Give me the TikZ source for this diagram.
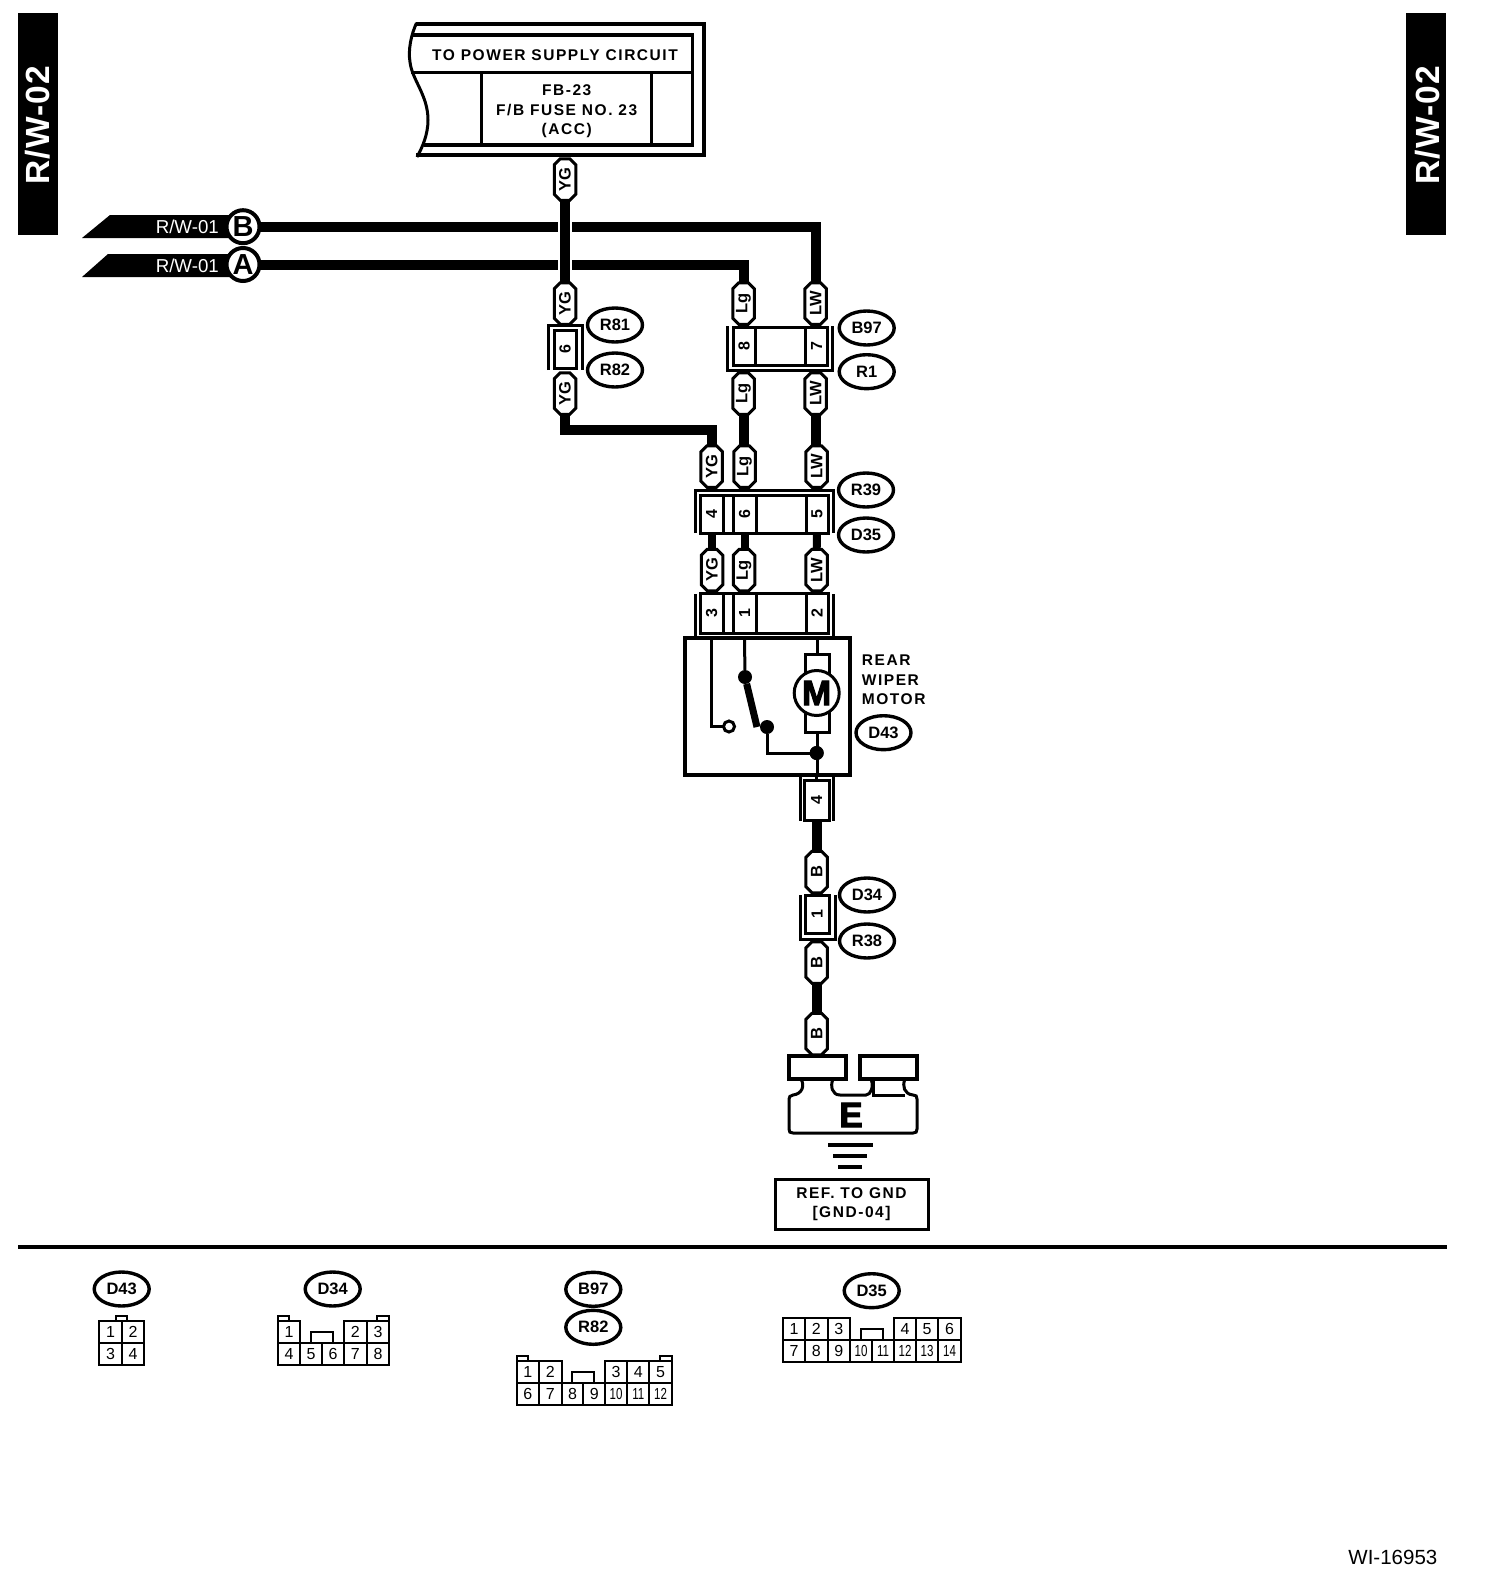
\documentclass[tikz,border=0pt]{standalone}
\usepackage{fontspec}
\usepackage{graphicx}
\setmainfont{Liberation Sans}
\newfontfamily\lsfont[LetterSpace=10.0]{Liberation Sans}
\newfontfamily\tabfont[LetterSpace=3.5]{Liberation Sans}
\newfontface\heavyfont{Liberation Sans Bold}[FakeBold=3]
\usetikzlibrary{shapes.geometric,shapes.misc}
\tikzset{
  capsule/.style={draw,fill=white,line width=3pt,outer sep=0pt,chamfered rectangle,chamfered rectangle xsep=3pt,chamfered rectangle ysep=3pt,
    minimum width=41.5pt,minimum height=21.5pt,inner sep=0pt,rotate=90,font=\fontsize{16.5}{17}\selectfont\bfseries},
  cell/.style={draw,fill=white,line width=3pt,outer sep=0pt,inner sep=0pt,rotate=90,font=\fontsize{16}{16}\selectfont\bfseries,minimum height=22pt,minimum width=38pt},
  blankcell/.style={draw,line width=3pt,outer sep=0pt,inner sep=0pt},
  tag/.style={draw,fill=white,ellipse,line width=3.4pt,inner sep=0pt,minimum width=55pt,minimum height=34pt,font=\fontsize{16.5}{17}\selectfont\bfseries},
  wire/.style={line width=10pt},
  thinw/.style={line width=3pt},
  bracket/.style={line width=3pt},
  tab/.style={fill=black,text=white,minimum width=40pt,minimum height=222pt,inner sep=0pt},
  pointerlabel/.style={text=white,inner sep=0pt,font=\fontsize{18.7}{19}\selectfont},
  letterc/.style={circle,draw,fill=white,line width=4pt,outer sep=0pt,minimum size=33pt,inner sep=0pt,font=\fontsize{29}{29}\selectfont\bfseries},
  dot/.style={circle,fill=black,inner sep=0pt,outer sep=0pt,minimum size=14pt},
  opendot/.style={circle,draw,fill=white,line width=3pt,outer sep=0pt,inner sep=0pt,minimum size=11pt},
  labeltext/.style={inner sep=0pt,font=\fontsize{15.5}{19.5}\selectfont\lsfont\bfseries,align=center},
  mini/.style={line width=2pt},
  num/.style={inner sep=0pt,font=\fontsize{16}{16}\selectfont},
  tabtext/.style={text=white,inner sep=0pt,rotate=90,font=\fontsize{33.5}{34}\selectfont\tabfont\bfseries},
}
\newcommand{\nn}[3]{\node[num] at (#1,#2) {#3};}
\newcommand{\nnn}[3]{\node[num] at (#1,#2) {\scalebox{.72}[1]{#3}};}
\begin{document}
\begin{tikzpicture}[x=1pt,y=-1pt]
\useasboundingbox (0,0) rectangle (1504,1592);

% side tabs
\node[tab] (tabL) at (37.7,124) {};
\node[tab] (tabR) at (1426,124) {};
\node[tabtext] (tabLt) at (37.7,125) {R/W-02};
\node[tabtext] (tabRt) at (1427.7,125) {R/W-02};

% power supply block
\draw[line width=4pt] (416,24.5) -- (704,24.5) -- (704,155) -- (416,155);
\draw[line width=3.5pt] (413,35) -- (692.7,35) -- (692.7,145) -- (424,145);
\draw[line width=3pt] (411,72.7) -- (692.7,72.7);
\draw[line width=3pt] (481,72.7) -- (481,145);
\draw[line width=3pt] (651.7,72.7) -- (651.7,145);
\draw[line width=3pt] (416.5,23) .. controls (411,35) and (408,50) .. (410,62) .. controls (412,80) and (428,95) .. (428,120) .. controls (428,135) and (422,148) .. (417,157);
\node[labeltext] (ps1) at (555,55) {TO POWER SUPPLY CIRCUIT};
\node[labeltext] (ps2) at (566.7,111.5) {FB-23\\F/B FUSE NO. 23\\(ACC)};

% pointers
\fill (82,238) -- (110,215) -- (233,215) -- (233,238) -- cycle;
\fill (82,277) -- (108,254) -- (233,254) -- (233,277) -- cycle;
\node[pointerlabel,anchor=east] (pb) at (219,227) {R/W-01};
\node[pointerlabel,anchor=east] (pa) at (219,266) {R/W-01};
\node[letterc] (cb) at (243,226.7) {B};
\node[letterc] (ca) at (243,264.5) {A};

% capsules
\node[capsule] (yg1) at (565,179.5) {YG};
\node[capsule] (yg2) at (565,303.5) {YG};
\node[capsule] (yg3) at (565,393.5) {YG};
\node[capsule] (lg1) at (743.5,303.5) {Lg};
\node[capsule] (lw1) at (815.7,303.5) {LW};
\node[capsule] (lg2) at (743.5,393.5) {Lg};
\node[capsule] (lw2) at (815.7,393.5) {LW};
\node[capsule] (yg4) at (711.7,466.5) {YG};
\node[capsule] (lg3) at (744.5,466.5) {Lg};
\node[capsule] (lw3) at (816.7,466.5) {LW};
\node[capsule] (yg5) at (712,570) {YG};
\node[capsule] (lg4) at (744,570) {Lg};
\node[capsule] (lw4) at (816.7,570) {LW};
\node[capsule] (b1) at (816.7,872) {B};
\node[capsule] (b2) at (816.7,962.5) {B};
\node[capsule] (b3) at (816.7,1034) {B};

% wires
\draw[wire] (cb.east) -| (lw1.east);
\draw[wire] (ca.east) -| (lg1.east);
\draw[white,line width=14pt] (yg1 |- cb) ++(0,-6) -- ++(0,12);
\draw[white,line width=14pt] (yg1 |- ca) ++(0,-6) -- ++(0,12);
\draw[wire] (yg1.west) -- (yg2.east);
\draw[wire] (lg2.west) -- (lg2.west |- lg3.east);
\draw[wire] (lw2.west) -- (lw2.west |- lw3.east);
\draw[wire] (yg3.west) -- ++(0,15.5) -| (yg4.east);
\draw[wire] (b2.west) -- (b3.east);

% connector 6
\node[cell,minimum width=38pt,minimum height=22pt] (p6) at (565,349) {6};
\draw[bracket] (548,370) -- (548,325) -- (582.7,325) -- (582.7,370);
% connector 8/7
\node[blankcell,minimum width=50pt,minimum height=38pt] (m1) at (780,346.5) {};
\node[cell] (p8) at (744,346.5) {8};
\node[cell] (p7) at (816.5,346.5) {7};
\draw[bracket] (727.7,326) -- (727.7,370) -- (832,370) -- (832,326);
% connector 4/6/5
\node[blankcell,minimum width=128pt,minimum height=38pt] (m2) at (764,514) {};
\node[blankcell,minimum width=50pt,minimum height=38pt] (m2b) at (781,514) {};
\node[cell,minimum width=38pt,minimum height=23pt] (p4) at (711.5,514) {4};
\node[cell,minimum width=38pt,minimum height=23pt] (p6b) at (744.5,514) {6};
\node[cell,minimum width=38pt,minimum height=22pt] (p5) at (817,514) {5};
\draw[bracket] (695,533) -- (695,490) -- (833,490) -- (833,533);
\draw[line width=8pt] (p4.west) -- (p4.west |- yg5.east);
\draw[line width=8pt] (p6b.west) -- (p6b.west |- lg4.east);
\draw[line width=8pt] (p5.west) -- (lw4.east);
% connector 3/1/2
\node[blankcell,minimum width=128pt,minimum height=40pt] (m3) at (764,613) {};
\node[blankcell,minimum width=50pt,minimum height=40pt] (m3b) at (781,613) {};
\node[cell,minimum width=40pt,minimum height=23pt] (p3) at (711.5,613) {3};
\node[cell,minimum width=40pt,minimum height=23pt] (p1) at (744.5,613) {1};
\node[cell,minimum width=40pt,minimum height=22pt] (p2) at (817,613) {2};
\draw[bracket] (695.7,594) -- (695.7,636);
\draw[bracket] (833,594) -- (833,636);

% motor box
\node[draw,line width=3.2pt,inner sep=0pt,outer sep=0pt,minimum width=165pt,minimum height=137pt] (mb) at (767.5,706.5) {};
\node[opendot] (c1) at (729,726.5) {};
\node[dot] (d1) at (745,677) {};
\node[dot] (d2) at (767,727) {};
\node[dot] (d3) at (816.7,753) {};
\coordinate (sw) at (757,727);
\draw[thinw] (p3 |- mb.north) |- (c1.west);
\draw[thinw] (p1 |- mb.north) -- (d1);
\draw[line width=7pt] (d1) -- (sw);
\draw[thinw] (d2) |- (d3);
\draw[thinw] (p2 |- mb.north) -- (p2 |- mb.south);
\node[draw,fill=white,line width=3pt,inner sep=0pt,minimum width=24pt,minimum height=78pt] (mr) at (817,693) {};
\node[circle,draw,fill=white,line width=3pt,inner sep=0pt,minimum size=45pt,font=\fontsize{35}{35}\selectfont\heavyfont] (mm) at (816.7,693) {M};
\node[dot] at (d3) {};
\node[labeltext,anchor=north west,align=left] (mt) at (861.7,655) {REAR\\WIPER\\MOTOR};

% connector 4 below motor
\node[cell,minimum width=40pt,minimum height=25pt] (p4b) at (816.7,800) {4};
\draw[bracket] (800,775) -- (800,821);
\draw[bracket] (833,775) -- (833,821);
\draw[thinw] (p4b |- mb.south) -- (p4b.east);
\draw[wire] (p4b.west) -- (b1.east);
% connector 1
\node[cell,minimum width=38pt,minimum height=24pt] (p1b) at (817,914) {1};
\draw[bracket] (800,895) -- (800,939) -- (835,939) -- (835,895);

% ground block
\node[draw,fill=white,line width=3.2pt,inner sep=0pt,minimum width=57pt,minimum height=23pt] (g1) at (817.5,1067.5) {};
\node[draw,fill=white,line width=3.2pt,inner sep=0pt,minimum width=57pt,minimum height=23pt] (g2) at (888.5,1067.5) {};
\draw[line width=3pt] (801,1079) .. controls (805,1086) and (802,1094) .. (793,1095) .. controls (790,1095.5) and (789,1097) .. (789,1099) -- (789,1129) .. controls (789,1132) and (790,1133) .. (793,1133) -- (913,1133) .. controls (916,1133) and (917,1132) .. (917,1129) -- (917,1099) .. controls (917,1096) and (916,1095) .. (913,1095) .. controls (904,1094) and (902,1086) .. (905,1079);
\draw[line width=3pt] (833,1079) .. controls (830,1086) and (832,1095) .. (840,1095) -- (866,1095) .. controls (871,1095) and (874,1086) .. (871,1079);
\draw[line width=3pt] (873,1079) -- (873,1095) -- (905,1095);
\node[inner sep=0pt,font=\fontsize{35}{35}\selectfont\heavyfont] (e) at (851,1115) {E};
\draw[line width=4pt] (828,1145) -- (873,1145);
\draw[line width=4pt] (833,1156) -- (867,1156);
\draw[line width=4pt] (838,1167) -- (862,1167);
\node[draw,line width=3pt,inner sep=0pt,minimum width=153pt,minimum height=50pt,labeltext] (ref) at (851.5,1204) {REF. TO GND\\{}[GND-04]};

% tags
\node[tag] (t1) at (615,325) {R81};
\node[tag] (t2) at (615,370) {R82};
\node[tag] (t3) at (866.7,328) {B97};
\node[tag] (t4) at (866.7,371.7) {R1};
\node[tag] (t5) at (866,490) {R39};
\node[tag] (t6) at (866,535) {D35};
\node[tag] (t7) at (883.5,732.7) {D43};
\node[tag] (t8) at (867,895) {D34};
\node[tag] (t9) at (867,941) {R38};

% separator
\draw[line width=4pt] (18,1247) -- (1447,1247);

% bottom connector views
\node[tag] (t10) at (121.7,1289) {D43};
\node[tag] (t11) at (332.7,1289) {D34};
\node[tag] (t12) at (593.3,1289.3) {B97};
\node[tag] (t13) at (593.3,1327.3) {R82};
\node[tag] (t14) at (871.7,1290.7) {D35};

% D43 view
\draw[mini] (99.3,1320.7) rectangle (144,1365);
\draw[mini] (99.3,1343) -- (144,1343);
\draw[mini] (121.7,1320.7) -- (121.7,1365);
\draw[mini] (116,1320.7) -- (116,1316) -- (127.3,1316) -- (127.3,1320.7);
\nn{110.5}{1332}{1}\nn{133}{1332}{2}\nn{110.5}{1354}{3}\nn{133}{1354}{4}

% D34 view
\draw[mini] (277.7,1343) -- (277.7,1320.7) -- (300.3,1320.7) -- (300.3,1343);
\draw[mini] (344,1343) -- (344,1320.7) -- (389,1320.7) -- (389,1343);
\draw[mini] (366.7,1320.7) -- (366.7,1343);
\draw[mini] (277.7,1343) rectangle (389,1365);
\foreach \vx in {300.3,322,344,366.7} \draw[mini] (\vx,1343) -- (\vx,1365);
\draw[mini] (310.7,1343) -- (310.7,1332) -- (333.3,1332) -- (333.3,1343);
\draw[mini] (278,1320.7) -- (278,1316) -- (289.3,1316) -- (289.3,1320.7);
\draw[mini] (376.7,1320.7) -- (376.7,1316) -- (388.7,1316) -- (388.7,1320.7);
\nn{289}{1332}{1}\nn{355.3}{1332}{2}\nn{378}{1332}{3}
\nn{289}{1354}{4}\nn{311}{1354}{5}\nn{333}{1354}{6}\nn{355.3}{1354}{7}\nn{378}{1354}{8}

% 12-pin view
\draw[mini] (516.7,1383.3) -- (516.7,1360.7) -- (561.7,1360.7) -- (561.7,1383.3);
\draw[mini] (605,1383.3) -- (605,1360.7) -- (671.7,1360.7) -- (671.7,1383.3);
\draw[mini] (538.7,1360.7) -- (538.7,1383.3);
\draw[mini] (627.3,1360.7) -- (627.3,1383.3);
\draw[mini] (649.3,1360.7) -- (649.3,1383.3);
\draw[mini] (516.7,1383.3) rectangle (671.7,1405);
\foreach \vx in {538.7,561.7,583.3,605,627.3,649.3} \draw[mini] (\vx,1383.3) -- (\vx,1405);
\draw[mini] (571.7,1383.3) -- (571.7,1371.7) -- (594.3,1371.7) -- (594.3,1383.3);
\draw[mini] (516.7,1360.7) -- (516.7,1355.7) -- (528.3,1355.7) -- (528.3,1360.7);
\draw[mini] (660,1360.7) -- (660,1355.7) -- (671.7,1355.7) -- (671.7,1360.7);
\nn{527.7}{1372}{1}\nn{550.2}{1372}{2}\nn{616}{1372}{3}\nn{638.3}{1372}{4}\nn{660.5}{1372}{5}
\nn{527.7}{1394}{6}\nn{550.2}{1394}{7}\nn{572.5}{1394}{8}\nn{594.2}{1394}{9}\nnn{616}{1394}{10}\nnn{638.3}{1394}{11}\nnn{660.5}{1394}{12}

% D35 view
\draw[mini] (782.7,1340) -- (782.7,1317.7) -- (850,1317.7) -- (850,1340);
\draw[mini] (894,1340) -- (894,1317.7) -- (960.7,1317.7) -- (960.7,1340);
\foreach \vx in {805,827.7,916,938.3} \draw[mini] (\vx,1317.7) -- (\vx,1340);
\draw[mini] (782.7,1340) rectangle (960.7,1362);
\foreach \vx in {805,827.7,850,871.7,894,916,938.3} \draw[mini] (\vx,1340) -- (\vx,1362);
\draw[mini] (860.7,1340) -- (860.7,1329) -- (882.7,1329) -- (882.7,1340);
\nn{794}{1329}{1}\nn{816.3}{1329}{2}\nn{838.8}{1329}{3}\nn{905}{1329}{4}\nn{927}{1329}{5}\nn{949.5}{1329}{6}
\nn{794}{1351}{7}\nn{816.3}{1351}{8}\nn{838.8}{1351}{9}\nnn{861}{1351}{10}\nnn{883}{1351}{11}\nnn{905}{1351}{12}\nnn{927}{1351}{13}\nnn{949.5}{1351}{14}

\node[inner sep=0pt,anchor=east,font=\fontsize{20.5}{20.5}\selectfont] (wi) at (1437.5,1557.7) {WI-16953};
\end{tikzpicture}
\end{document}
